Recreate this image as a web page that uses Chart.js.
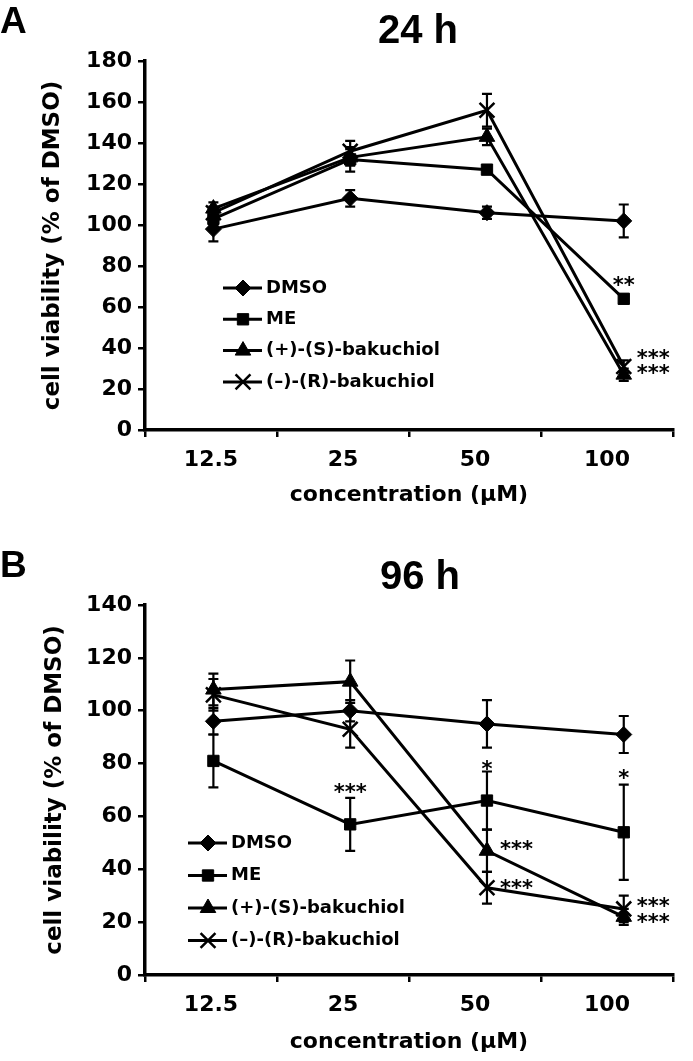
<!DOCTYPE html>
<html>
<head>
<meta charset="utf-8">
<script src="https://cdn.jsdelivr.net/npm/chart.js@4.4.1/dist/chart.umd.min.js"></script>
<style>
  html, body { margin: 0; padding: 0; background: #fff; }
  canvas { display: block; }
</style>
</head>
<body>
<canvas id="chart24" width="693" height="520"></canvas>
<canvas id="chart96" width="693" height="541"></canvas>
<script>
// x axis categories (µM)
const concLabels = ['12.5', '25', '50', '100'];
const seriesNames = ['DMSO', 'ME', '(+)-(S)-bakuchiol', '(–)-(R)-bakuchiol'];

// 24 h - cell viability (% of DMSO), mean and error
const dmso24 = [98, 113, 106, 102];
const dmso24Err = [6, 4, 3, 8];
const me24 = [103, 132, 127, 64];
const me24Err = [3, 6, 2, 2];
const sBak24 = [108, 133, 143, 27];
const sBak24Err = [3, 4, 4, 3];
const rBak24 = [106, 136, 156, 31];
const rBak24Err = [3, 5, 8, 3];

// 96 h
const dmso96 = [96, 100, 95, 91];
const dmso96Err = [5, 4, 9, 7];
const me96 = [81, 57, 66, 54];
const me96Err = [10, 10, 11, 18];
const sBak96 = [108, 111, 47, 22];
const sBak96Err = [6, 8, 8, 3];
const rBak96 = [106, 93, 33, 25];
const rBak96Err = [6, 7, 6, 5];

// significance marks: category index, y value, text, placement
const notes24 = [
    { i: 3, v: 73, text: '**', place: 'center' },
    { i: 3, v: 37.6, text: '***', place: 'right' },
    { i: 3, v: 30.2, text: '***', place: 'right' }
];
const notes96 = [
    { i: 1, v: 71, text: '***', place: 'center' },
    { i: 2, v: 80, text: '*', place: 'center' },
    { i: 3, v: 76.4, text: '*', place: 'center' },
    { i: 2, v: 49.6, text: '***', place: 'right' },
    { i: 2, v: 34.9, text: '***', place: 'right' },
    { i: 3, v: 28, text: '***', place: 'right' },
    { i: 3, v: 21.8, text: '***', place: 'right' }
];

Chart.defaults.font.family = 'DejaVu Sans';
Chart.defaults.color = '#000';

const markerStyles = [
    { pointStyle: 'rectRot', pointRadius: 8, pointBorderWidth: 1 },
    { pointStyle: 'rect', pointRadius: 8, pointBorderWidth: 1 },
    { pointStyle: 'triangle', pointRadius: 9, pointBorderWidth: 1 },
    { pointStyle: 'crossRot', pointRadius: 10.5, pointBorderWidth: 2.5 }
];

function drawMarker(ctx, style, x, y, r) {
    ctx.beginPath();
    if (style === 'rectRot') {
        ctx.moveTo(x, y - r); ctx.lineTo(x + r, y); ctx.lineTo(x, y + r); ctx.lineTo(x - r, y);
        ctx.closePath(); ctx.fill(); ctx.stroke();
    } else if (style === 'rect') {
        const s = r * Math.SQRT1_2;
        ctx.rect(x - s, y - s, 2 * s, 2 * s); ctx.fill(); ctx.stroke();
    } else if (style === 'triangle') {
        ctx.moveTo(x, y - r);
        ctx.lineTo(x + r * Math.sin(2 * Math.PI / 3), y - r * Math.cos(2 * Math.PI / 3));
        ctx.lineTo(x + r * Math.sin(4 * Math.PI / 3), y - r * Math.cos(4 * Math.PI / 3));
        ctx.closePath(); ctx.fill(); ctx.stroke();
    } else {
        const d = r * Math.SQRT1_2;
        ctx.moveTo(x - d, y - d); ctx.lineTo(x + d, y + d);
        ctx.moveTo(x + d, y - d); ctx.lineTo(x - d, y + d);
        ctx.stroke();
    }
}

// error bars from each dataset's "errors" array
const errorBars = {
    id: 'errorBars',
    afterDatasetsDraw(chart) {
        const ctx = chart.ctx;
        const xs = chart.scales.xd, ys = chart.scales.y;
        const cap = 5;
        ctx.save();
        ctx.strokeStyle = '#000';
        ctx.lineWidth = 2.2;
        chart.data.datasets.forEach(ds => {
            (ds.errors || []).forEach((e, i) => {
                const v = ds.data[i].y;
                const x = xs.getPixelForValue(i);
                const top = ys.getPixelForValue(v + e);
                const bot = ys.getPixelForValue(v - e);
                ctx.beginPath();
                ctx.moveTo(x, top); ctx.lineTo(x, bot);
                ctx.moveTo(x - cap, top); ctx.lineTo(x + cap, top);
                ctx.moveTo(x - cap, bot); ctx.lineTo(x + cap, bot);
                ctx.stroke();
            });
        });
        ctx.restore();
    }
};

// legend, panel letter, title and asterisks
const decorations = {
    id: 'decorations',
    afterDraw(chart, args, opts) {
        const ctx = chart.ctx;
        const xs = chart.scales.xd, ys = chart.scales.y;
        ctx.save();
        ctx.fillStyle = '#000';
        ctx.strokeStyle = '#000';

        // panel letter + title
        ctx.textBaseline = 'alphabetic';
        ctx.font = 'bold 37px "Liberation Sans"';
        ctx.textAlign = 'left';
        ctx.fillText(opts.letter, 0, opts.letterY);
        ctx.font = 'bold 40px "Liberation Sans"';
        ctx.textAlign = 'center';
        ctx.fillText(opts.title, opts.titleX, opts.titleY);

        // legend
        const lg = opts.legend;
        chart.data.datasets.forEach((ds, k) => {
            const y = lg.y + k * lg.gap;
            ctx.lineWidth = 3;
            ctx.beginPath();
            ctx.moveTo(lg.x, y); ctx.lineTo(lg.x + 39, y);
            ctx.stroke();
            ctx.lineWidth = ds.pointBorderWidth;
            drawMarker(ctx, ds.pointStyle, lg.x + 20, y, ds.pointRadius);
            ctx.font = 'bold 18px "DejaVu Sans"';
            ctx.textAlign = 'left';
            ctx.textBaseline = 'middle';
            ctx.fillText(ds.label, lg.x + 43, y);
        });

        // significance marks
        ctx.font = 'bold 21px "DejaVu Sans"';
        ctx.textBaseline = 'alphabetic';
        opts.notes.forEach(n => {
            const x = xs.getPixelForValue(n.i);
            const y = ys.getPixelForValue(n.v) + 12;
            if (n.place === 'right') {
                ctx.textAlign = 'left';
                ctx.fillText(n.text, x + 13, y);
            } else {
                ctx.textAlign = 'center';
                ctx.fillText(n.text, x, y);
            }
        });
        ctx.restore();
    }
};

function makeChart(id, series, errors, cfg) {
    const datasets = series.map((vals, k) => Object.assign({
        label: seriesNames[k],
        data: vals.map((v, i) => ({ x: i, y: v })),
        errors: errors[k],
        xAxisID: 'xd',
        yAxisID: 'y',
        borderColor: '#000',
        borderWidth: 3,
        pointBackgroundColor: '#000',
        pointBorderColor: '#000',
        tension: 0,
        fill: false
    }, markerStyles[k]));

    return new Chart(document.getElementById(id), {
        type: 'line',
        data: { labels: concLabels, datasets: datasets },
        options: {
            responsive: false,
            animation: false,
            devicePixelRatio: 1,
            layout: { padding: { top: cfg.padTop, right: 20, left: 0, bottom: 0 } },
            plugins: {
                legend: { display: false },
                tooltip: { enabled: false },
                decorations: cfg.deco
            },
            scales: {
                x: {
                    type: 'category',
                    position: 'bottom',
                    offset: true,
                    afterFit: s => { s.height = cfg.xHeight; },
                    grid: { offset: true, drawOnChartArea: false, drawTicks: true, tickLength: 7, color: '#000', lineWidth: 2.5 },
                    border: { color: '#000', width: 3.5 },
                    ticks: { padding: 10, color: '#000', font: { size: 22, weight: 'bold' } },
                    title: {
                        display: true,
                        text: 'concentration (µM)',
                        color: '#000',
                        font: { size: 22, weight: 'bold' },
                        padding: { top: 0, bottom: cfg.xTitlePad }
                    }
                },
                xd: { type: 'linear', display: false, min: -0.5, max: 3.36 },
                y: {
                    min: 0,
                    max: cfg.yMax,
                    afterFit: s => { s.width = 145; },
                    grid: { drawOnChartArea: false, drawTicks: true, tickLength: 7, color: '#000', lineWidth: 2.5 },
                    border: { color: '#000', width: 3.5 },
                    ticks: { stepSize: 20, padding: 6, color: '#000', font: { size: 22, weight: 'bold' } },
                    title: {
                        display: true,
                        text: 'cell viability (% of DMSO)',
                        color: '#000',
                        font: { size: 23, weight: 'bold' },
                        padding: { top: cfg.yTitlePad, bottom: 0 }
                    }
                }
            }
        },
        plugins: [errorBars, decorations]
    });
}

makeChart('chart24',
    [dmso24, me24, sBak24, rBak24],
    [dmso24Err, me24Err, sBak24Err, rBak24Err],
    {
        yMax: 180, padTop: 61, xHeight: 90, xTitlePad: 12, yTitlePad: 39,
        deco: {
            letter: 'A', letterY: 33, title: '24 h', titleX: 418, titleY: 43,
            legend: { x: 223, y: 288, gap: 31.3 },
            notes: notes24
        }
    });

makeChart('chart96',
    [dmso96, me96, sBak96, rBak96],
    [dmso96Err, me96Err, sBak96Err, rBak96Err],
    {
        yMax: 140, padTop: 85, xHeight: 86, xTitlePad: 6, yTitlePad: 41,
        deco: {
            letter: 'B', letterY: 57, title: '96 h', titleX: 420, titleY: 69,
            legend: { x: 188, y: 323, gap: 32.5 },
            notes: notes96
        }
    });
</script>
</body>
</html>
